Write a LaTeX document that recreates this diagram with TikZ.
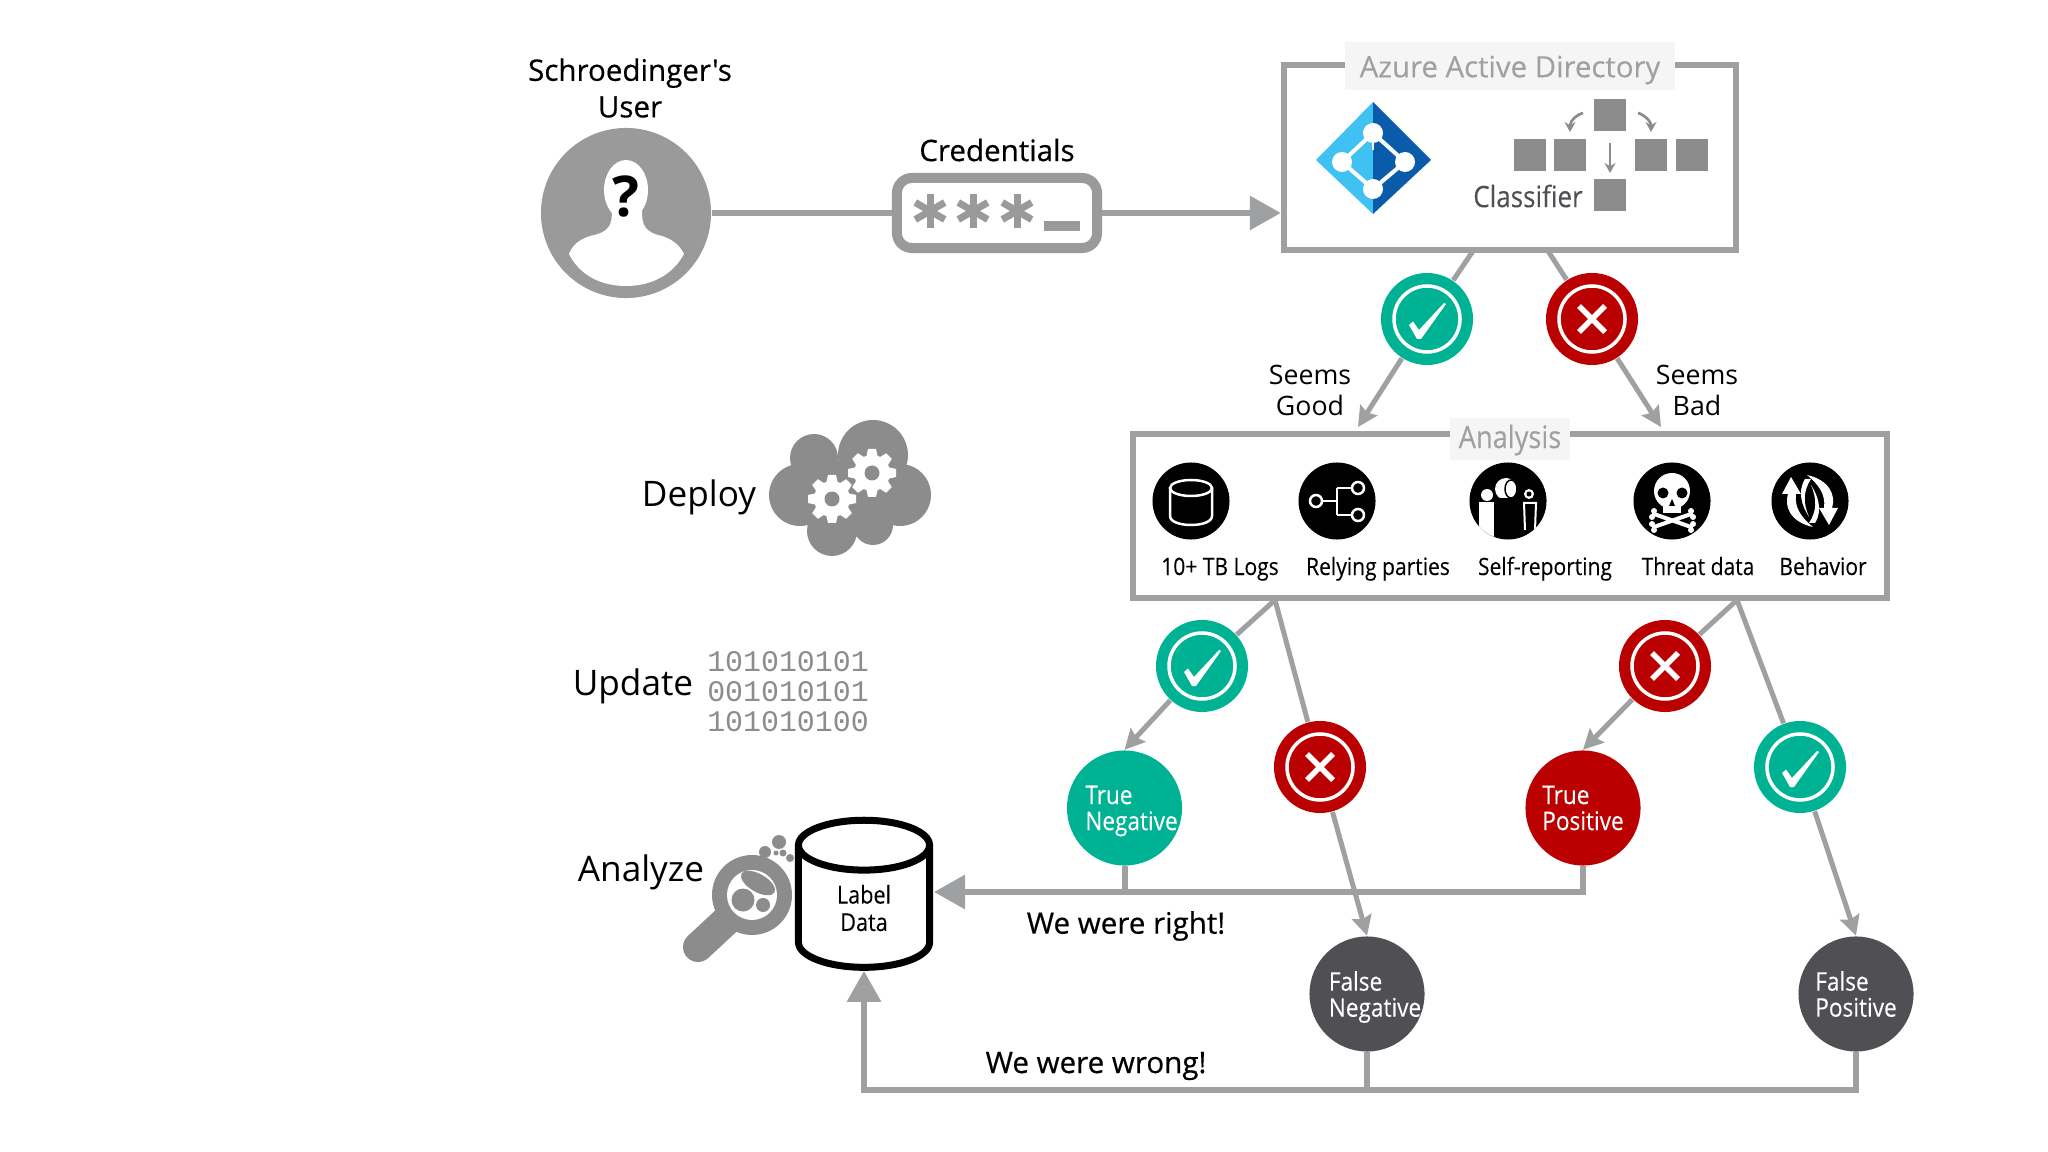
\documentclass[tikz,border=0pt]{standalone}
\usepackage{fontspec}
\usetikzlibrary{arrows.meta,shapes.geometric}
\setmainfont{Open Sans}
\setmonofont{Liberation Mono}
\newfontfamily\medfont[FakeBold=0.5]{Open Sans}
\newfontfamily\titlefont[FakeBold=0.2]{Open Sans}
\newfontfamily\narrowfont[FakeStretch=0.88,FakeBold=0.15]{Open Sans}
\definecolor{flowgray}{HTML}{9FA0A2}
\definecolor{usergray}{HTML}{9A9A9A}
\definecolor{icongray}{HTML}{8C8C8C}
\definecolor{okgreen}{HTML}{00B294}
\definecolor{badred}{HTML}{BA0000}
\definecolor{darkgray}{HTML}{504F53}
\definecolor{titlebg}{HTML}{F5F5F5}
\definecolor{titletext}{HTML}{A0A0A0}
\definecolor{azlight}{HTML}{3FC1F1}
\definecolor{azdark}{HTML}{0A5CAB}
\tikzset{
  flowline/.style={draw=flowgray, line width=0.06cm},
  treeline/.style={draw=flowgray, line width=0.05cm},
  bigarrow/.style={flowline, -{Triangle[length=0.31cm,width=0.33cm]}},
  smallarrow/.style={treeline, -{Stealth[length=0.2cm,width=0.2cm,inset=0.03cm]}},
  panelbox/.style={draw=flowgray, line width=0.06cm, rectangle},
  paneltitle/.style={fill=titlebg, text=titletext, inner sep=0pt},
  tagtext/.style={font=\fontsize{7.6}{8.8}\selectfont, align=center},
  sidetext/.style={font=\fontsize{10}{12}\selectfont},
  heavytext/.style={font=\medfont\fontsize{8.4}{10.4}\selectfont, align=center},
  itemtext/.style={font=\narrowfont\fontsize{6.8}{8}\selectfont, anchor=base},
  itemdot/.style={circle, fill=black, minimum size=0.77cm, inner sep=0pt},
  square/.style={fill=icongray, minimum size=0.32cm, inner sep=0pt},
  outcome/.style={circle, minimum size=1.15cm, inner sep=0pt},
  outcometext/.style={text=white, align=left, font=\narrowfont\fontsize{7.3}{7.4}\selectfont},
  okbadge/.style={circle, fill=okgreen, minimum size=0.92cm, inner sep=0pt, path picture={
    \begin{scope}[shift={(path picture bounding box.center)}]
      \draw[white, line width=0.035cm] (0,0) circle[radius=33];
      \fill[white] (-18,6) -- (-14,2.5) -- (-8,11) -- (17,-16) -- (19,-15) -- (-6,20) -- (-10,20) -- cycle;
    \end{scope}}},
  nobadge/.style={circle, fill=badred, minimum size=0.92cm, inner sep=0pt, path picture={
    \begin{scope}[shift={(path picture bounding box.center)}]
      \draw[white, line width=0.035cm] (0,0) circle[radius=33];
      \draw[white, line width=0.055cm] (-13,-13) -- (13,13) (-13,13) -- (13,-13);
    \end{scope}}},
  gearicon/.pic={
    \fill[white] (0,0) circle[radius=18];
    \foreach \a in {0,45,...,315}
      \fill[white, rotate=\a] (-4,-24) -- (4,-24) -- (6,-15) -- (-6,-15) -- cycle;
    \fill[icongray] (0,0) circle[radius=7.5];
  }
}
\begin{document}
\begin{tikzpicture}[x=0.01cm, y=-0.01cm]
  \useasboundingbox (0,0) rectangle (2048,1152);

  % Top row
  \node (user) [circle, fill=usergray, minimum size=1.7cm, inner sep=0pt] at (626,213) {};
  \fill[white] (626,190) ellipse[x radius=22, y radius=30];
  \fill[white] (612,210) .. controls (612,225) and (610,232) .. (590,236)
    .. controls (578,240) and (572,246) .. (569,254)
    .. controls (580,276) and (602,286) .. (626,286)
    .. controls (650,286) and (672,276) .. (684,254)
    .. controls (680,246) and (674,240) .. (662,236)
    .. controls (644,232) and (642,225) .. (642,210) -- cycle;
  \node (quest) [font=\bfseries\fontsize{16}{16}\selectfont] at (626,197) {?};
  \node (usertext) [heavytext] at (630,88) {Schroedinger's\\User};

  \node (creds) [rectangle, draw=usergray, line width=0.1cm, rounded corners=0.15cm,
    minimum width=2cm, minimum height=0.7cm] at (997,213) {};
  \node (credtext) [heavytext] at (997,150) {Credentials};
  \foreach \x in {930,973,1017}
    \foreach \a in {0,60,120}
      \draw[usergray, line width=0.07cm, rotate around={\a:(\x,211)}] (\x,194) -- (\x,228);
  \fill[usergray] (1044,221) rectangle (1080,231);

  \node (aad) [panelbox, minimum width=4.52cm, minimum height=1.85cm] at (1510,157.5) {};
  \node (aadtitle) [paneltitle, minimum width=3.29cm, minimum height=0.47cm] at (1510,66) {};
  \node (aadtext) [text=titletext, inner sep=0pt, font=\titlefont\fontsize{8.35}{10}\selectfont] at (1510,70) {Azure Active Directory};

  \draw[flowline] (user) -- (creds);
  \draw[bigarrow] (creds) -- (creds -| aad.west);

  % Azure logo
  \fill[azlight] (1373,102) -- (1316,160) -- (1373,214) -- cycle;
  \fill[azdark] (1373,102) -- (1431,160) -- (1373,214) -- cycle;
  \draw[white, line width=0.04cm] (1373,133) -- (1342,162) -- (1373,189) -- (1405,162) -- cycle;
  \draw[white, line width=0.025cm] (1373,133) -- (1373,150);
  \foreach \x/\y in {1373/133, 1342/162, 1405/162, 1373/189}
    \fill[white] (\x,\y) circle[radius=10];

  % Classifier squares
  \node (sqtop) [square] at (1610,115) {};
  \node (sqa) [square] at (1530,155) {};
  \node (sqb) [square] at (1570,155) {};
  \node (sqc) [square] at (1651,155) {};
  \node (sqd) [square] at (1692,155) {};
  \node (sqbottom) [square] at (1610,195) {};
  \node (classifier) [text=darkgray, font=\narrowfont\fontsize{8.4}{10}\selectfont] at (1528,196) {Classifier};
  \draw[icongray, line width=0.027cm, -{Stealth[length=0.1cm,width=0.11cm]}]
    (1583,113) .. controls (1578,114) and (1570,120) .. (1570,132);
  \draw[icongray, line width=0.027cm, -{Stealth[length=0.1cm,width=0.11cm]}]
    (1638,113) .. controls (1642,114) and (1651,120) .. (1651,132);
  \draw[icongray, line width=0.027cm, -{Stealth[length=0.1cm,width=0.11cm]}]
    (1610,143) -- (1610,173);

  % First verdict
  \node (analysis) [panelbox, minimum width=7.54cm, minimum height=1.64cm] at (1510,516) {};
  \node (analysistitle) [paneltitle, minimum width=1.2cm, minimum height=0.42cm] at (1510,439) {};
  \node (analysistext) [text=titletext, inner sep=0pt, font=\narrowfont\fontsize{8.8}{10}\selectfont] at (1510,440) {Analysis};

  \coordinate (goodtop) at (1473,251);
  \coordinate (goodend) at (1358,427);
  \coordinate (badtop) at (1548,251);
  \coordinate (badend) at (1661,427);
  \node (seemsok) [okbadge] at (1427,319) {};
  \node (seemsbad) [nobadge] at (1592,319) {};
  \draw[treeline] (goodtop) -- (seemsok);
  \draw[smallarrow] (seemsok) -- (goodend);
  \draw[treeline] (badtop) -- (seemsbad);
  \draw[smallarrow] (seemsbad) -- (badend);
  \node (goodtext) [tagtext] at (1310,390) {Seems\\Good};
  \node (badtext) [tagtext] at (1697,390) {Seems\\Bad};

  % Analysis icons
  \node (logsdot) [itemdot] at (1191,501) {};
  \node (partiesdot) [itemdot] at (1337,501) {};
  \node (selfdot) [itemdot] at (1508,501) {};
  \node (threatdot) [itemdot] at (1672,501) {};
  \node (behaviordot) [itemdot] at (1810,501) {};
  \node (logstext) [itemtext] at (1220,575) {10+ TB Logs};
  \node (partiestext) [itemtext] at (1378,575) {Relying parties};
  \node (selftext) [itemtext] at (1545,575) {Self-reporting};
  \node (threattext) [itemtext] at (1698,575) {Threat data};
  \node (behaviortext) [itemtext] at (1823,575) {Behavior};

  \begin{scope}[white, line width=0.025cm]
    \draw (1170,488) -- (1170,516) .. controls (1170,528) and (1212,528) .. (1212,516) -- (1212,488);
    \draw (1191,488) ellipse[x radius=21, y radius=8];
    \draw (1322,501) -- (1337,501) (1337,488) -- (1337,515) (1337,488) -- (1352,488) (1337,515) -- (1352,515);
    \draw (1316,501) circle[radius=6] (1358,488) circle[radius=6] (1358,515) circle[radius=6];
  \end{scope}

  \begin{scope}
    \clip (1508,501) circle[radius=38.5];
    \fill[white] (1506,489) circle[radius=11];
    \draw[black, line width=0.015cm] (1511,489) ellipse[x radius=6, y radius=9];
    \fill[black] (1490,498) rectangle (1526,512);
    \fill[white] (1487,495) circle[radius=6];
    \fill[white] (1479,502) rectangle (1494,545);
    \fill[white] (1529,494) circle[radius=5];
    \draw[white, line width=0.02cm] (1525,530) -- (1524,503) -- (1536,503) -- (1535,530);
    \fill[black] (1529,494) circle[radius=2.5];
  \end{scope}

  \fill[white] (1672,491) ellipse[x radius=18, y radius=18];
  \fill[white] (1663,500) rectangle (1681,513);
  \fill[black] (1663,493) circle[radius=5.5] (1682,493) circle[radius=5.5];
  \fill[black] (1672,499) -- (1669,506) -- (1675,506) -- cycle;
  \draw[white, line width=0.04cm, line cap=round] (1654,514) -- (1691,527) (1691,514) -- (1654,527);
  \foreach \x/\y in {1654/511, 1652/517, 1691/511, 1693/517, 1654/530, 1652/524, 1691/530, 1693/524}
    \fill[white] (\x,\y) circle[radius=3];

  \foreach \a in {0,180} {
    \begin{scope}[rotate around={\a:(1810,501)}]
      \fill[white] (1813,527) .. controls (1790,522) and (1784,506) .. (1788,494) -- (1782,494)
        -- (1791,477) -- (1801,494) -- (1796,494) .. controls (1794,508) and (1802,518) .. (1813,527) -- cycle;
      \fill[white] (1805,479) .. controls (1797,492) and (1802,506) .. (1809,517) .. controls (1803,503) and (1803,491) .. (1811,479) -- cycle;
    \end{scope}
  }

  % Second verdict
  \coordinate (leftapex) at (1275,600);
  \coordinate (rightapex) at (1737,600);
  \node (tnbadge) [okbadge] at (1202,666) {};
  \node (fnbadge) [nobadge] at (1320,767) {};
  \node (tpbadge) [nobadge] at (1665,666) {};
  \node (fpbadge) [okbadge] at (1800,767) {};
  \node (tn) [outcome, fill=okgreen, label={[outcometext, xshift=0.07cm, yshift=-0.03cm]center:True\\Negative}] at (1124.5,808) {};
  \node (tp) [outcome, fill=badred, label={[outcometext]center:True\\Positive}] at (1583,808) {};
  \node (fn) [outcome, fill=darkgray, label={[outcometext, xshift=0.08cm, yshift=-0.03cm]center:False\\Negative}] at (1367,994) {};
  \node (fp) [outcome, fill=darkgray, label={[outcometext]center:False\\Positive}] at (1856,994) {};
  \draw[treeline] (leftapex) -- (tnbadge);
  \draw[smallarrow] (tnbadge) -- (tn.north);
  \draw[treeline] (leftapex) -- (fnbadge);
  \draw[smallarrow] (fnbadge) -- (fn.north);
  \draw[treeline] (rightapex) -- (tpbadge);
  \draw[smallarrow] (tpbadge) -- (tp.north);
  \draw[treeline] (rightapex) -- (fpbadge);
  \draw[smallarrow] (fpbadge) -- (fp.north);

  % Left column
  \node (deploytext) [sidetext] at (699,497) {Deploy};
  \node (updatetext) [sidetext] at (633,686) {Update};
  \node (analyzetext) [sidetext] at (641,872) {Analyze};

  \fill[icongray] (873,455) circle[radius=35] (814,458) circle[radius=24]
    (800,495) circle[radius=31] (900,495) circle[radius=31]
    (832,531) circle[radius=25] (873,525) circle[radius=20] (850,493) circle[radius=35];
  \pic at (832,499) {gearicon};
  \pic at (872,473) {gearicon};

  \node (bits) [text=icongray, align=left, inner sep=0pt,
    font=\ttfamily\fontsize{8.5}{8.54}\selectfont] at (788,692) {101010101\\001010101\\101010100};

  % Magnifier
  \fill[icongray] (779,842) circle[radius=7] (765,852) circle[radius=6]
    (776,853) circle[radius=2.5] (783,853) circle[radius=3.5] (790,858) circle[radius=4];
  \draw[icongray, line width=0.3cm, line cap=round] (698,947) -- (740,908);
  \fill[icongray] (752,895) circle[radius=40];
  \fill[white] (752,895) circle[radius=25];
  \fill[icongray] (743,900) circle[radius=11.5] (763,905) circle[radius=7];
  \fill[icongray, rotate around={-30:(758,883)}] (758,883) ellipse[x radius=19, y radius=9];

  \node (labeldata) [cylinder, shape border rotate=90, shape aspect=0.92, draw=black, fill=white,
    line width=0.07cm, minimum height=1.47cm, minimum width=1.31cm, inner sep=0pt, align=center,
    font=\narrowfont\fontsize{7}{7.8}\selectfont] at (864,908) {Label\\Data};

  % Feedback lines
  \coordinate (wrongcorner) at (864,1090);
  \coordinate (rightend) at (934,892);
  \draw[flowline] (tp.south) |- (tn.south |- rightend);
  \draw[bigarrow] (tn.south) |- (rightend);
  \draw[bigarrow] (fp.south) |- (wrongcorner) -- (labeldata.south);
  \draw[flowline] (fn.south) -- (fn.south |- wrongcorner);
  \node (righttext) [heavytext] at (1126,926) {We were right!};
  \node (wrongtext) [heavytext] at (1096,1066) {We were wrong!};
\end{tikzpicture}
\end{document}
